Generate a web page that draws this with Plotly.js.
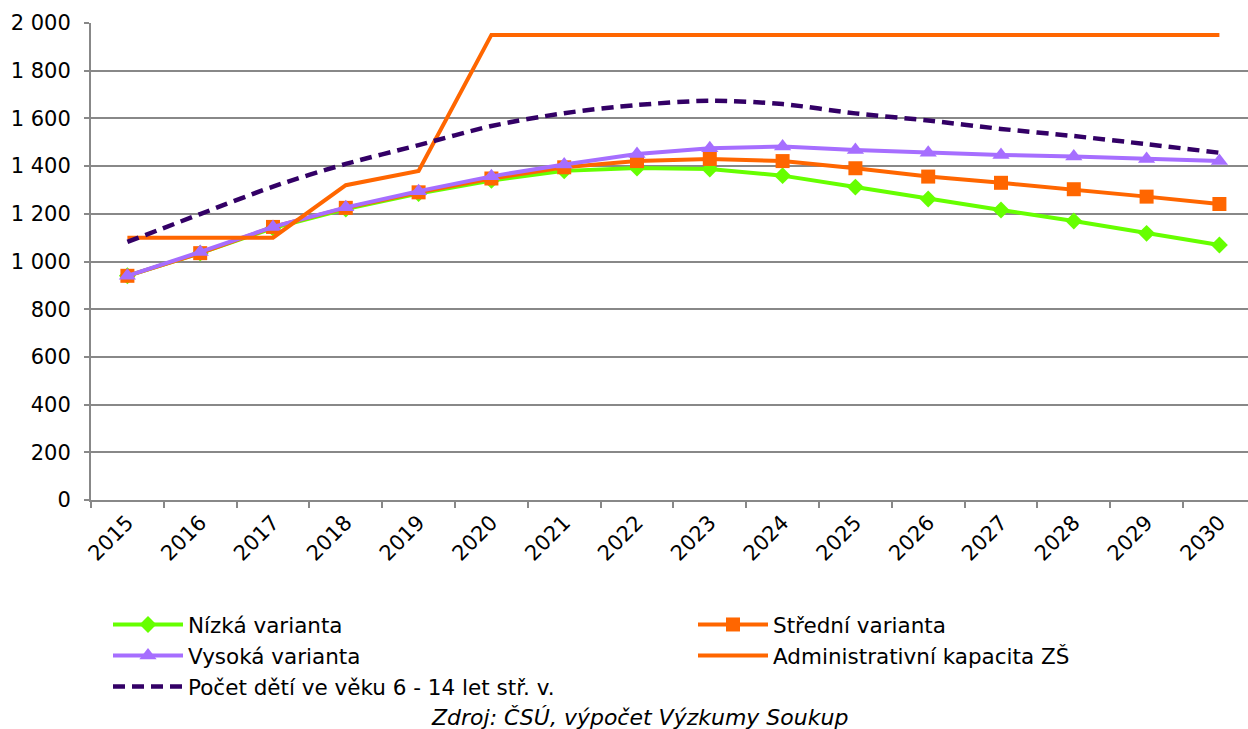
<!DOCTYPE html>
<html>
<head>
<meta charset="utf-8">
<script src="https://cdn.plot.ly/plotly-3.0.1.min.js"></script>
<style>
html,body{margin:0;padding:0;background:#fff;overflow:hidden;}
#wrap{width:1248px;height:729px;overflow:hidden;}
#chart{width:1270px;height:729px;}
</style>
</head>
<body>
<div id="wrap"><div id="chart"></div></div>
<script>
var years = ['2015','2016','2017','2018','2019','2020','2021','2022','2023','2024','2025','2026','2027','2028','2029','2030'];
var nizka = [940,1035,1140,1220,1285,1340,1380,1392,1388,1360,1312,1262,1216,1170,1118,1069];
var stredni = [940,1035,1145,1225,1290,1348,1395,1421,1430,1421,1391,1356,1330,1303,1272,1241];
var vysoka = [940,1040,1145,1227,1295,1357,1407,1451,1475,1482,1468,1456,1447,1440,1430,1421];
var kapacita = [1100,1100,1100,1320,1380,1950,1950,1950,1950,1950,1950,1950,1950,1950,1950,1950];
var pocet = [1082,1199,1314,1409,1488,1568,1622,1656,1674,1660,1621,1591,1556,1526,1492,1456];
var names = ['Nízká varianta','Střední varianta','Vysoká varianta','Administrativní kapacita ZŠ','Počet dětí ve věku 6 - 14 let stř. v.'];
var sourceText = 'Zdroj: ČSÚ, výpočet Výzkumy Soukup';

var FONT = 'DejaVu Sans, Verdana, sans-serif';
var W = 1270, H = 729, ML = 91, MT = 23, MB = 229;
var PW = W - ML, PH = H - MT - MB;

var traces = [
  {x: years, y: nizka, name: names[0], type: 'scatter', mode: 'lines+markers',
   line: {color: '#66FF00', width: 4}, marker: {symbol: 'diamond', size: 13, color: '#66FF00'}},
  {x: years, y: stredni, name: names[1], type: 'scatter', mode: 'lines+markers',
   line: {color: '#FF6600', width: 4}, marker: {symbol: 'square', size: 14, color: '#FF6600'}},
  {x: years, y: vysoka, name: names[2], type: 'scatter', mode: 'lines+markers',
   line: {color: '#A66EFF', width: 4}, marker: {symbol: 'triangle-up', size: 15, color: '#A66EFF'}},
  {x: years, y: kapacita, name: names[3], type: 'scatter', mode: 'lines',
   line: {color: '#FF6600', width: 4}},
  {x: years, y: pocet, name: names[4], type: 'scatter', mode: 'lines',
   line: {color: '#330066', width: 4.5, dash: '12px,7px', shape: 'spline', smoothing: 0.8}}
];

var layout = {
  width: W, height: H,
  margin: {l: ML, r: 0, t: MT, b: MB},
  paper_bgcolor: '#ffffff', plot_bgcolor: '#ffffff',
  font: {family: FONT, size: 21, color: '#000000'},
  separators: ', ',
  showlegend: true,
  legend: {
    orientation: 'h', xref: 'container', yref: 'container',
    x: 108/W, y: 1 - 604/H, xanchor: 'left', yanchor: 'top',
    entrywidth: 500, entrywidthmode: 'pixels',
    font: {family: FONT, size: 21.5, color: '#000'},
    traceorder: 'normal', itemwidth: 70, tracegroupgap: 0
  },
  xaxis: {
    type: 'category', range: [-0.5, -0.5 + PW/72.8], fixedrange: true,
    showgrid: false, showline: true, linecolor: '#888888', linewidth: 2,
    ticks: 'outside', tickson: 'boundaries', ticklen: 6, tickcolor: '#888888', tickwidth: 2,
    tickangle: -45, tickfont: {family: FONT, size: 21, color: '#000'}, zeroline: false
  },
  yaxis: {
    range: [0, 2000], dtick: 200, tick0: 0, fixedrange: true,
    separatethousands: true, tickformat: ',d', ticklabelstandoff: 9,
    showgrid: true, gridcolor: '#888888', gridwidth: 2,
    showline: true, linecolor: '#888888', linewidth: 2,
    ticks: 'outside', ticklen: 5, tickcolor: '#888888', tickwidth: 2,
    tickfont: {family: FONT, size: 21, color: '#000'}, zeroline: false
  },
  annotations: [{
    xref: 'paper', yref: 'paper', x: (639 - ML)/PW, y: -(717 - (H - MB))/PH,
    xanchor: 'center', yanchor: 'middle', showarrow: false,
    text: '<i>' + sourceText + '</i>',
    font: {family: FONT, size: 22, color: '#000'}
  }]
};

Plotly.newPlot('chart', traces, layout, {staticPlot: true, displayModeBar: false});
</script>
</body>
</html>
